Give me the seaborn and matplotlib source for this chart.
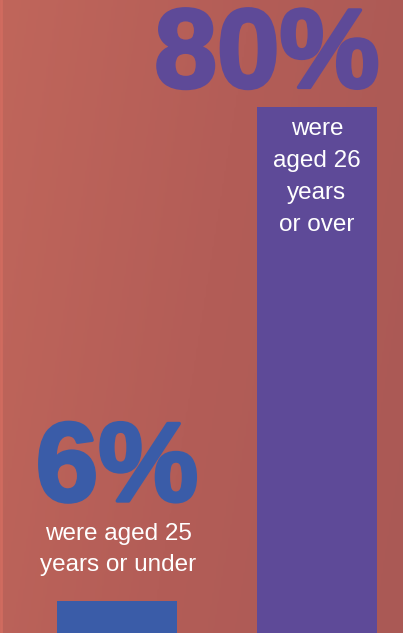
import numpy as np
import pandas as pd
import seaborn as sns
from matplotlib import pyplot as plt
from matplotlib import patheffects as pe
from matplotlib.colors import LinearSegmentedColormap

sns.set_style("white")
plt.rcParams['font.family'] = ['Liberation Sans', 'DejaVu Sans']

groups = ["25 or under", "26 or over"]
shares = [6, 80]
big_labels = ["6%", "80%"]
small_labels = ["were aged 25\nyears or under", "were\naged 26\nyears\nor over"]
bar_colors = ["#3a5ca8", "#5e4a98"]

df = pd.DataFrame({"group": groups, "share": shares})

fig = plt.figure(figsize=(4.03, 6.33), dpi=100)

# gradient background
bg = fig.add_axes([0, 0, 1, 1], zorder=0)
cmap = LinearSegmentedColormap.from_list("bg", ["#c0665b", "#b35d57", "#aa5955"])
xx, yy = np.meshgrid(np.linspace(0, 1, 200), np.linspace(0, 1, 200))
bg.imshow(0.8 * xx + 0.2 * yy, cmap=cmap, aspect="auto", extent=[0, 1, 0, 1], origin="upper")
bg.axvline(0.002, color="#d06b5f", lw=2)
bg.set_axis_off()

ax = fig.add_axes([0, 0, 1, 1], zorder=1)
ax.patch.set_alpha(0)
sns.barplot(data=df, x="group", y="share", hue="group", palette=bar_colors,
            width=0.6, saturation=1, legend=False, linewidth=0, ax=ax)
ax.set_xlim(-0.585, 1.43)
ax.set_ylim(1.2, 96.0)
ax.set_axis_off()

# big percentages (stroke makes them heavier, like the original)
for i in range(2):
    off = (0, 72) if i == 0 else (-36, 14)
    ax.annotate(big_labels[i], xy=(i, shares[i]), xytext=off, textcoords="offset points",
                ha="center", va="baseline", fontsize=81, fontweight="bold", color=bar_colors[i],
                path_effects=[pe.withStroke(linewidth=2.5, foreground=bar_colors[i])])

# descriptions
ax.annotate(small_labels[0], xy=(0, shares[0]), xytext=(1, 18), textcoords="offset points",
            ha="center", va="bottom", fontsize=17.5, color="white", linespacing=1.55,
            multialignment="center")
ax.annotate(small_labels[1], xy=(1, shares[1]), xytext=(0, -8), textcoords="offset points",
            ha="center", va="top", fontsize=17.5, color="white", linespacing=1.58,
            multialignment="center")

plt.savefig("out.png", dpi=100)
